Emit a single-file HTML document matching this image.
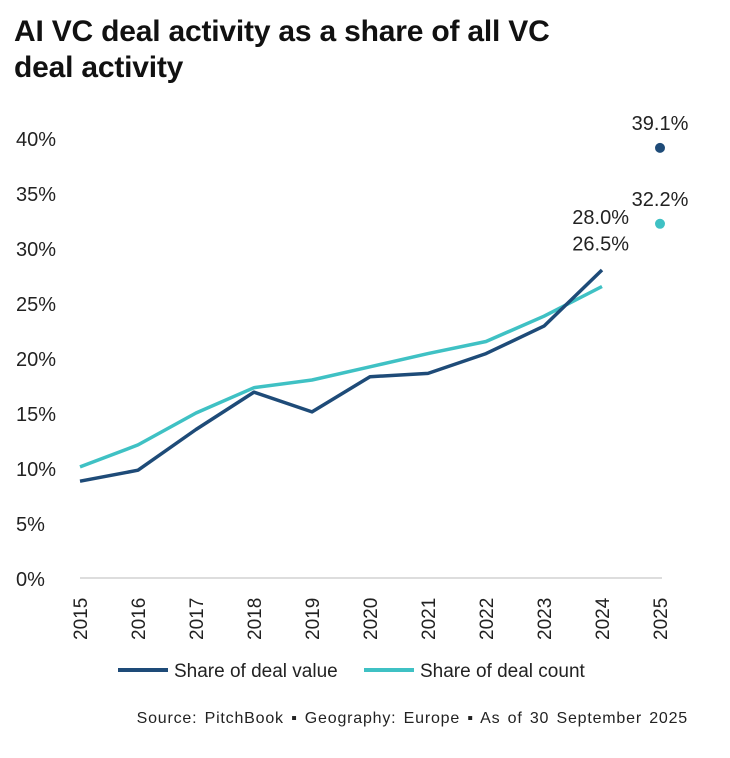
<!DOCTYPE html>
<html><head><meta charset="utf-8"><style>
body{margin:0;background:#fff;width:730px;height:758px;overflow:hidden;font-family:"Liberation Sans",sans-serif}
#title{position:absolute;left:14px;top:14px;font-size:30px;font-weight:bold;line-height:36px;color:#111;letter-spacing:-0.2px}
</style></head><body>
<div id="title">AI VC deal activity as a share of all VC<br>deal activity</div>
<svg id="chart" width="730" height="758" style="position:absolute;left:0;top:0"></svg>
<script>
const years=["2015","2016","2017","2018","2019","2020","2021","2022","2023","2024","2025"];
const dealValue=[8.8,9.8,13.5,16.9,15.1,18.3,18.6,20.4,22.9,28.0];
const dealCount=[10.1,12.1,15.0,17.3,18.0,19.2,20.4,21.5,23.8,26.5];
const valueYTD=39.1;
const countYTD=32.2;
const yTicks=[0,5,10,15,20,25,30,35,40];
const C1="#1e4b78",C2="#3fc1c4";
const svg=document.getElementById('chart');const NS="http://www.w3.org/2000/svg";
const x=i=>80+i*58, y=v=>578-v*11;
function mk(t,a,p){const e=document.createElementNS(NS,t);for(const k in a)e.setAttribute(k,a[k]);(p||svg).appendChild(e);return e;}
let base=mk('line',{x1:80,x2:662,y1:578,y2:578,stroke:'#bbb','stroke-width':1});


yTicks.forEach(v=>{const t=mk('text',{x:16,y:y(v)+8,'font-size':20,fill:'#222'});t.textContent=v+'%';

});
years.forEach((yr,i)=>{const t=mk('text',{x:0,y:0,'font-size':19,fill:'#222',transform:`translate(${x(i)+7},${640}) rotate(-90)`});t.textContent=yr;

});
function line(d,c,name){const p=mk('polyline',{points:d.map((v,i)=>x(i)+','+y(v)).join(' '),fill:'none',stroke:c,'stroke-width':3.5,'stroke-linejoin':'round'});

}
line(dealCount,C2,'deal-count-line');
line(dealValue,C1,'deal-value-line');
function dot(v,c,name){const d=mk('circle',{cx:x(10),cy:y(v),r:5,fill:c});


const t=mk('text',{x:x(10),y:y(v)-18,'font-size':20,fill:'#222','text-anchor':'middle'});t.textContent=v.toFixed(1)+'%';

}
dot(valueYTD,C1,'deal-value-2025-dot');dot(countYTD,C2,'deal-count-2025-dot');
function lab(v,yy,name){const t=mk('text',{x:x(9)+27,y:yy,'font-size':20,fill:'#222','text-anchor':'end'});t.textContent=v.toFixed(1)+'%';

}
lab(dealValue[9],y(dealValue[9])-46,'deal-value-2024-label');
lab(dealCount[9],y(dealCount[9])-36,'deal-count-2024-label');
function leg(x0,c,txt,name){const g=mk('g',{});
mk('line',{x1:x0,x2:x0+50,y1:670,y2:670,stroke:c,'stroke-width':4},g);const t=mk('text',{x:x0+56,y:677,'font-size':19,fill:'#222'},g);t.textContent=txt;}
leg(118,C1,'Share of deal value','legend-deal-value');leg(364,C2,'Share of deal count','legend-deal-count');
const s=mk('text',{x:688,y:723,'font-size':16,fill:'#222','text-anchor':'end','letter-spacing':'0.8','word-spacing':'2'});s.textContent='Source: PitchBook  \u25AA  Geography: Europe  \u25AA  As of 30 September 2025';


</script>
</body></html>
